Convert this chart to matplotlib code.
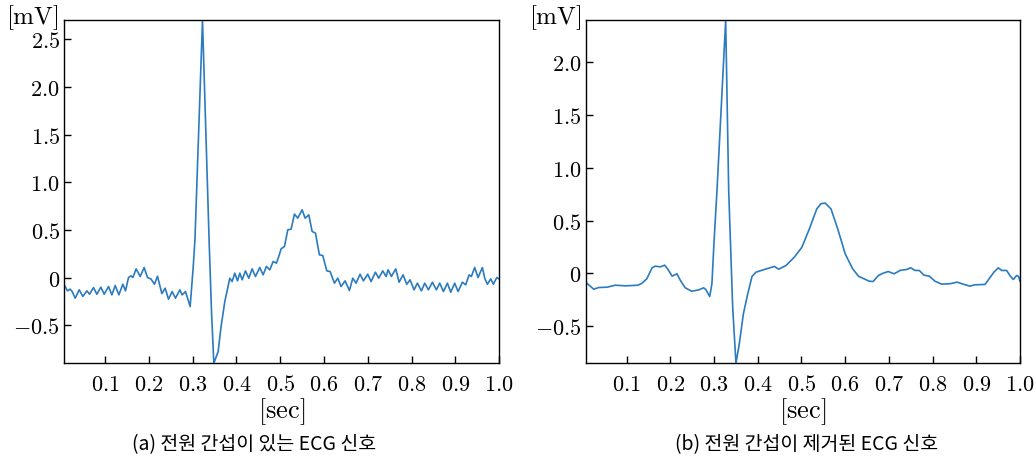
import matplotlib
matplotlib.use('Agg')
import matplotlib.pyplot as plt

plt.rcParams['mathtext.fontset'] = 'cm'
plt.rcParams['font.family'] = ['Noto Sans CJK KR', 'DejaVu Sans']

# (time [sec], amplitude [mV])
# (a) ECG with power-line interference
ecg_noisy = [
    (0.0064, -0.077), (0.014, -0.140), (0.0201, -0.122), (0.0247, -0.147), (0.0315, -0.217),
    (0.0407, -0.129), (0.049, -0.198), (0.0582, -0.140), (0.0643, -0.175), (0.0734, -0.105),
    (0.081, -0.175), (0.0902, -0.101), (0.0978, -0.175), (0.1077, -0.094), (0.1153, -0.182),
    (0.1229, -0.084), (0.1313, -0.182), (0.1404, -0.070), (0.1465, -0.140), (0.1533, 0.0),
    (0.1587, 0.018), (0.1633, 0.0), (0.1708, 0.091), (0.18, 0.011), (0.1891, 0.105),
    (0.1967, 0.0), (0.2044, -0.014), (0.2127, -0.070), (0.2196, 0.014), (0.2295, -0.168),
    (0.2371, -0.112), (0.2447, -0.227), (0.2531, -0.147), (0.2607, -0.217), (0.2706, -0.129),
    (0.2759, -0.182), (0.2835, -0.147), (0.2942, -0.304), (0.301, 0.098), (0.3052, 0.40),
    (0.3224, 2.70), (0.3376, 0.375), (0.343, -0.357), (0.3483, -0.90), (0.3582, -0.777),
    (0.3643, -0.532), (0.3734, -0.252), (0.3848, -0.007), (0.3901, -0.042), (0.3962, 0.046),
    (0.4023, -0.035), (0.4077, 0.046), (0.413, -0.024), (0.4206, 0.070), (0.4282, -0.007),
    (0.4358, 0.091), (0.4434, 0.011), (0.4533, 0.105), (0.4609, 0.028), (0.4685, 0.116),
    (0.4762, 0.081), (0.4838, 0.168), (0.4914, 0.151), (0.4967, 0.221), (0.502, 0.301),
    (0.5097, 0.326), (0.5173, 0.501), (0.5249, 0.508), (0.5325, 0.666), (0.5401, 0.623),
    (0.55, 0.711), (0.5569, 0.623), (0.5653, 0.658), (0.5729, 0.484), (0.5805, 0.466),
    (0.5896, 0.238), (0.5972, 0.231), (0.6064, 0.070), (0.614, 0.063), (0.6239, -0.059),
    (0.6315, -0.007), (0.6391, -0.094), (0.6482, -0.035), (0.6581, -0.136), (0.6658, -0.007),
    (0.6734, -0.059), (0.6825, 0.035), (0.6901, -0.035), (0.7, 0.035), (0.7076, -0.042),
    (0.7175, 0.056), (0.7251, -0.007), (0.7343, 0.070), (0.7419, 0.011), (0.7465, 0.081),
    (0.754, 0.011), (0.764, 0.091), (0.7716, -0.049), (0.7807, 0.028), (0.7891, -0.070),
    (0.7967, -0.024), (0.8058, -0.129), (0.8135, -0.059), (0.8226, -0.140), (0.8302, -0.059),
    (0.8386, -0.129), (0.8477, -0.049), (0.8569, -0.129), (0.8645, -0.059), (0.8729, -0.147),
    (0.882, -0.059), (0.8896, -0.154), (0.8987, -0.059), (0.9064, -0.147), (0.9163, -0.049),
    (0.9239, -0.077), (0.9315, 0.028), (0.9368, 0.011), (0.9444, 0.105), (0.952, 0.0),
    (0.9619, 0.105), (0.9673, -0.007), (0.9734, -0.07), (0.981, -0.014), (0.9871, -0.07),
    (0.9947, 0.0), (1.0, -0.014),
]

# (b) ECG after removing the interference
ecg_clean = [
    (0.006, -0.085), (0.0245, -0.152), (0.036, -0.136), (0.055, -0.133), (0.074, -0.114),
    (0.097, -0.12), (0.126, -0.114), (0.135, -0.095), (0.146, -0.053), (0.158, 0.051),
    (0.1655, 0.067), (0.177, 0.06), (0.187, 0.076), (0.1945, 0.035), (0.204, -0.028),
    (0.215, -0.006), (0.223, -0.07), (0.234, -0.139), (0.249, -0.171), (0.265, -0.158),
    (0.276, -0.139), (0.281, -0.155), (0.29, -0.221), (0.295, -0.10), (0.300, 0.31),
    (0.3066, 0.785), (0.3265, 2.40), (0.3334, 0.785), (0.336, 0.469), (0.3425, -0.32),
    (0.350, -0.855), (0.3577, -0.67), (0.367, -0.386), (0.377, -0.196), (0.3867, -0.031),
    (0.396, 0.01), (0.415, 0.035), (0.438, 0.064), (0.448, 0.038), (0.4645, 0.073),
    (0.4836, 0.152), (0.501, 0.247), (0.518, 0.42), (0.535, 0.61), (0.5446, 0.66),
    (0.5545, 0.665), (0.5675, 0.61), (0.583, 0.42), (0.600, 0.184), (0.617, 0.042),
    (0.631, -0.031), (0.6415, -0.05), (0.655, -0.076), (0.664, -0.079), (0.676, -0.022),
    (0.687, 0.0), (0.6986, 0.016), (0.7117, -0.006), (0.727, 0.028), (0.7407, 0.035),
    (0.75, 0.051), (0.76, 0.026), (0.7696, 0.026), (0.7803, -0.019), (0.7925, -0.028),
    (0.8055, -0.076), (0.8208, -0.104), (0.84, -0.10), (0.8565, -0.085), (0.870, -0.104),
    (0.8856, -0.123), (0.897, -0.11), (0.92, -0.107), (0.931, -0.044), (0.9405, 0.01),
    (0.9505, 0.051), (0.958, 0.026), (0.9695, 0.026), (0.977, -0.022), (0.9847, -0.06),
    (0.9924, -0.022), (0.997, -0.031), (1.0, -0.076),
]

x_ticks = [0.1, 0.2, 0.3, 0.4, 0.5, 0.6, 0.7, 0.8, 0.9, 1.0]
x_ticklabels = ['0.1', '0.2', '0.3', '0.4', '0.5', '0.6', '0.7', '0.8', '0.9', '1.0']
y_ticks_a = [-0.5, 0, 0.5, 1.0, 1.5, 2.0, 2.5]
y_ticks_b = [-0.5, 0, 0.5, 1.0, 1.5, 2.0]
captions = ['(a) 전원 간섭이 있는 ECG 신호', '(b) 전원 간섭이 제거된 ECG 신호']

line_color = '#2a7bbf'


def ylabel_str(v):
    if v == 0:
        return r'$0$'
    return r'$%.1f$' % v


fig = plt.figure(figsize=(10.36, 4.58), dpi=100)
ax_a = fig.add_axes([0.0618, 0.2068, 0.4199, 0.7489])
ax_b = fig.add_axes([0.5653, 0.2068, 0.4192, 0.7489])

panels = [(ax_a, ecg_noisy, y_ticks_a), (ax_b, ecg_clean, y_ticks_b)]
for ax, data, yt in panels:
    t = [p[0] for p in data]
    mv = [p[1] for p in data]
    ax.plot(t, mv, color=line_color, lw=1.2)
    ax.set_xlim(0.006, 1.0)
    ax.set_ylim(min(mv), max(mv))
    ax.set_xticks(x_ticks)
    ax.set_xticklabels(['$%s$' % s for s in x_ticklabels])
    ax.set_yticks(yt)
    ax.set_yticklabels([ylabel_str(v) for v in yt])
    ax.tick_params(direction='in', length=5, width=1, labelsize=16)
    ax.tick_params(axis='x', pad=7)
    ax.tick_params(axis='y', pad=3)
    for s in ax.spines.values():
        s.set_linewidth(1.0)
    ax.set_xlabel(r'$\mathrm{[sec]}$', fontsize=19, labelpad=0)

fig.text(58 / 1036, 1 - 24 / 458, r'$\mathrm{[mV]}$', fontsize=18, ha='right', va='baseline')
fig.text(581 / 1036, 1 - 24 / 458, r'$\mathrm{[mV]}$', fontsize=18, ha='right', va='baseline')

fig.text(254 / 1036, 1 - 445 / 458, captions[0], fontsize=14, ha='center', va='center')
fig.text(807 / 1036, 1 - 445 / 458, captions[1], fontsize=14, ha='center', va='center')

fig.savefig('out.png', dpi=100)
